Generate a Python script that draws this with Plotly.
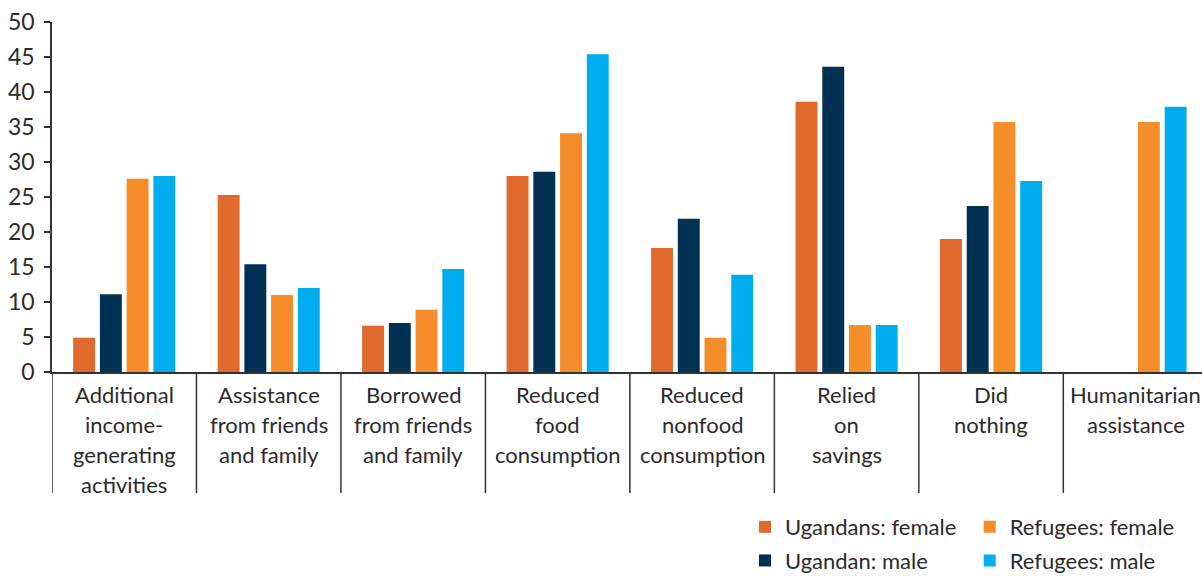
import plotly.graph_objects as go

# Coping strategies, share of respondents (%)
categories = [
    "Additional<br>income-<br>generating<br>activities",
    "Assistance<br>from friends<br>and family",
    "Borrowed<br>from friends<br>and family",
    "Reduced<br>food<br>consumption",
    "Reduced<br>nonfood<br>consumption",
    "Relied<br>on<br>savings",
    "Did<br>nothing",
    "Humanitarian<br>assistance",
]
ugandans_female = [4.9, 25.3, 6.6, 28.0, 17.7, 38.6, 19.0, None]
ugandan_male = [11.1, 15.4, 7.0, 28.6, 21.9, 43.6, 23.7, None]
refugees_female = [27.6, 11.0, 8.9, 34.1, 4.9, 6.7, 35.7, 35.7]
refugees_male = [28.0, 12.0, 14.7, 45.4, 13.9, 6.7, 27.3, 37.9]
y_ticks = [0, 5, 10, 15, 20, 25, 30, 35, 40, 45, 50]

FONT = "Lato"
TEXT = "#2b2b2b"
AXIS = "#333333"

series = [
    ("Ugandans: female", ugandans_female, "#E06A2B", "legend"),
    ("Ugandan: male", ugandan_male, "#003152", "legend"),
    ("Refugees: female", refugees_female, "#F68D2B", "legend2"),
    ("Refugees: male", refugees_male, "#00AEEF", "legend2"),
]

x_idx = list(range(len(categories)))

fig = go.Figure()
for name, vals, color, leg in series:
    fig.add_trace(go.Bar(
        x=x_idx, y=vals, name=name, marker_color=color,
        marker_line_width=0, legend=leg, legendgroup=name,
        hoverinfo="y+name",
    ))

# Category labels, one annotation per text line
annotations = []
for i, label in enumerate(categories):
    for j, line in enumerate(label.split("<br>")):
        annotations.append(dict(
            x=i, xref="x", y=0, yref="paper", yanchor="middle",
            yshift=-(22 + 30 * j), text=line, showarrow=False,
            font=dict(family=FONT, size=22, color=TEXT),
        ))

# Vertical separators between category labels
shapes = []
for i in range(len(categories)):
    shapes.append(dict(
        type="line", xref="x", yref="paper",
        x0=i - 0.5, x1=i - 0.5, y0=0, y1=-0.346,
        line=dict(color=AXIS, width=1.5),
    ))

fig.update_layout(
    width=1202, height=576,
    margin=dict(l=52, r=0, t=22, b=204, autoexpand=False),
    paper_bgcolor="white", plot_bgcolor="white",
    barmode="group", bargap=0.26, bargroupgap=0.18,
    font=dict(family=FONT, color=TEXT),
    xaxis=dict(
        range=[-0.5, 7.46], showticklabels=False, ticks="",
        showgrid=False, zeroline=False, showline=True,
        linecolor=AXIS, linewidth=1.5,
    ),
    yaxis=dict(
        range=[0, 50], tickvals=y_ticks, showgrid=False, zeroline=False,
        showline=True, linecolor=AXIS, linewidth=1.5,
        ticks="outside", ticklen=6, tickcolor=AXIS, tickwidth=1.5,
        tickfont=dict(family=FONT, size=23, color=TEXT),
        ticklabelstandoff=5,
    ),
    legend=dict(
        x=0.6026, y=-0.383, xanchor="left", yanchor="top",
        orientation="v", font=dict(family=FONT, size=22, color=TEXT),
        bgcolor="rgba(0,0,0,0)", tracegroupgap=2,
    ),
    legend2=dict(
        x=0.798, y=-0.383, xanchor="left", yanchor="top",
        orientation="v", font=dict(family=FONT, size=22, color=TEXT),
        bgcolor="rgba(0,0,0,0)", tracegroupgap=2,
    ),
    annotations=annotations,
    shapes=shapes,
    showlegend=True,
)

fig.write_html("out.html")
